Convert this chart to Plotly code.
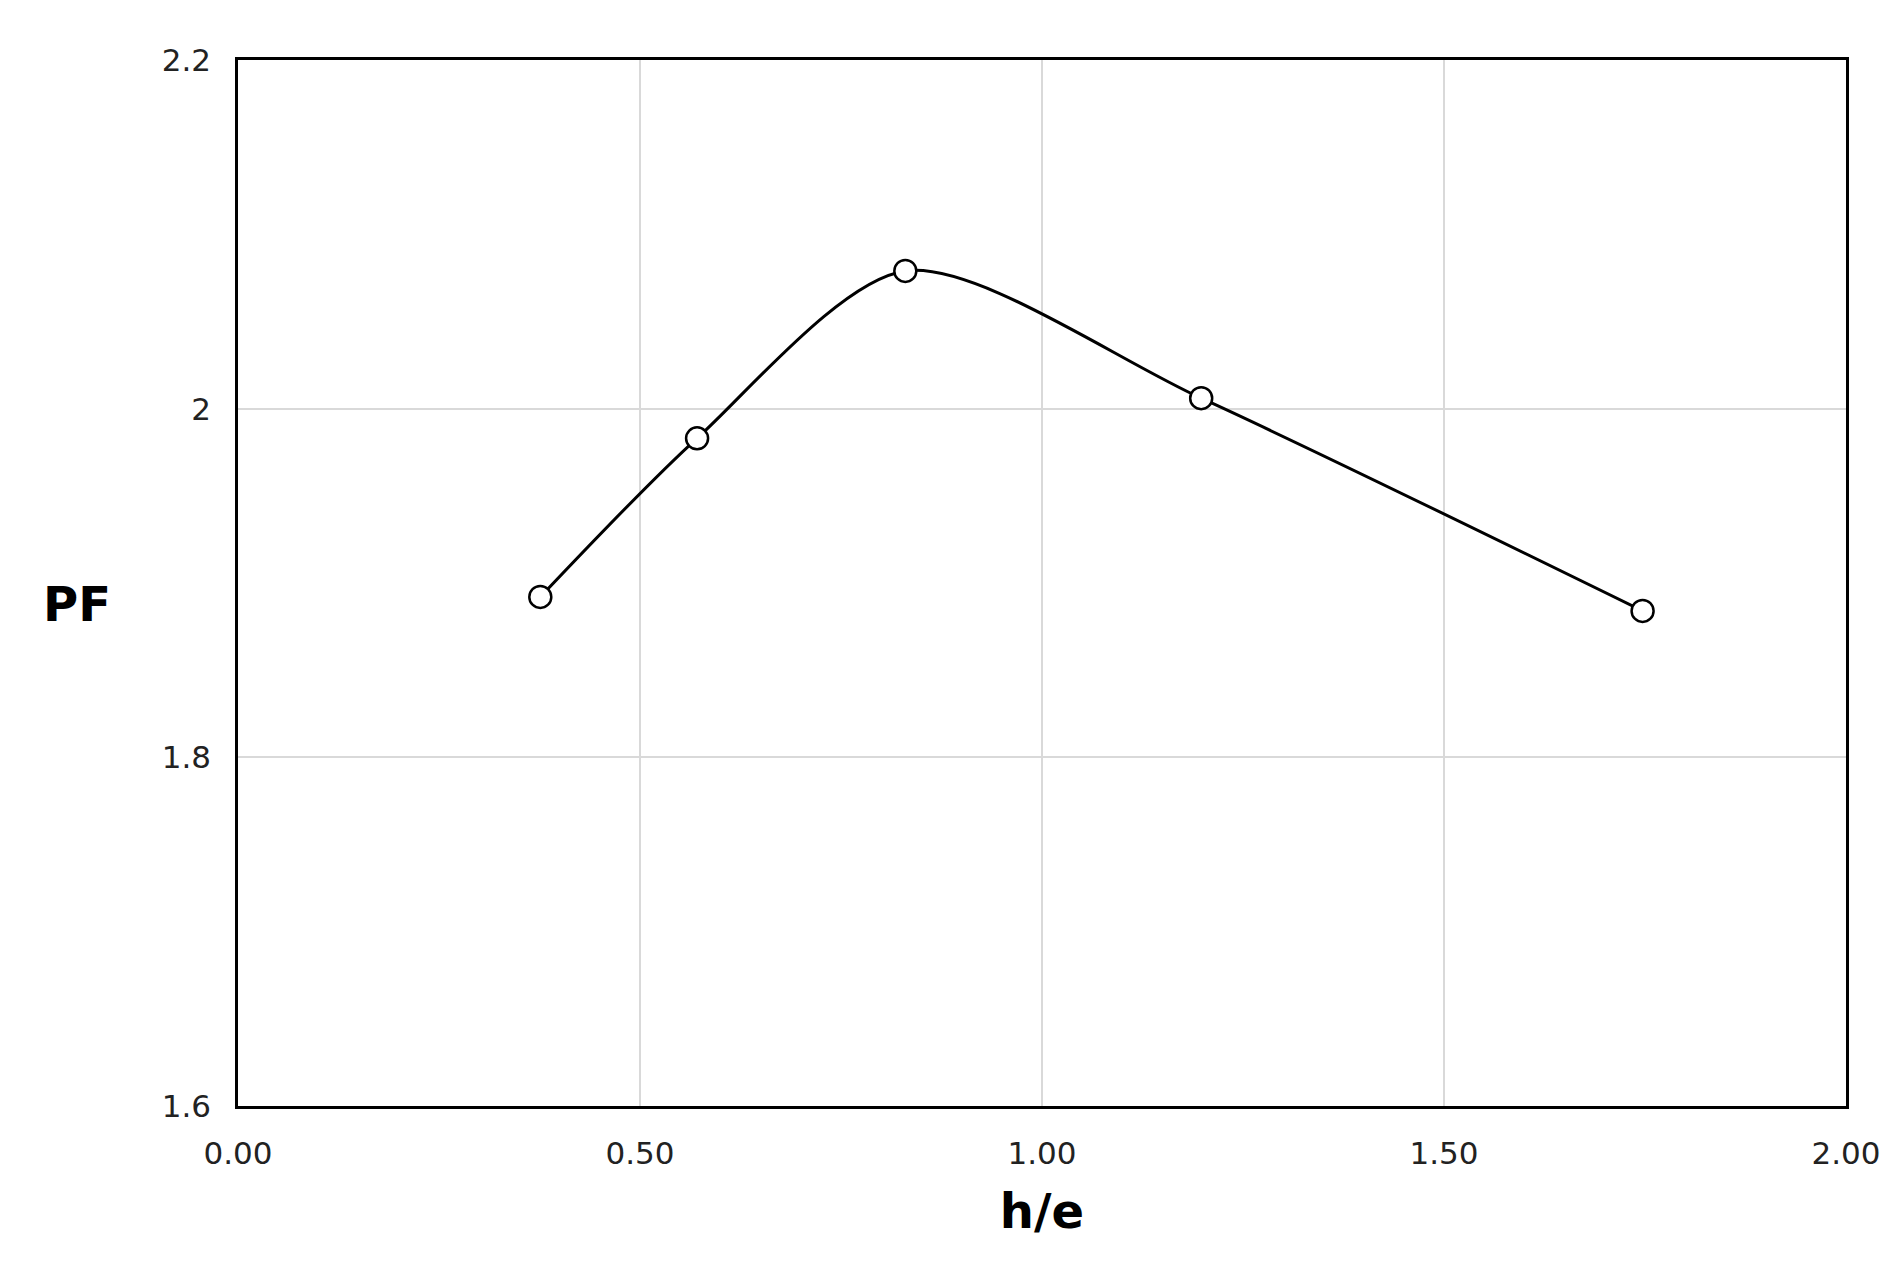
import plotly.graph_objects as go

# h/e vs PF
h_e = [0.376, 0.571, 0.830, 1.198, 1.747]
pf = [1.892, 1.983, 2.079, 2.006, 1.884]

fig = go.Figure()
fig.add_trace(go.Scatter(
    x=h_e, y=pf,
    mode='lines+markers',
    line=dict(color='black', width=3, shape='spline', smoothing=0.8),
    marker=dict(symbol='circle', size=22, color='white', line=dict(color='black', width=2.5)),
    showlegend=False,
))

axis_font = dict(family='DejaVu Sans', size=31, color='#222222')
fig.update_layout(
    width=1896, height=1283,
    paper_bgcolor='white', plot_bgcolor='white',
    margin=dict(l=230, r=58, t=52, b=185),
    xaxis=dict(range=[0, 2], tickvals=[0, 0.5, 1, 1.5, 2], tickformat='.2f',
               showgrid=True, gridcolor='#d9d9d9', gridwidth=2,
               showline=True, linecolor='black', linewidth=2.5, mirror=True,
               ticks='', tickfont=axis_font, zeroline=False, ticklabelstandoff=18,
               title=dict(text='<b>h/e</b>', font=dict(family='DejaVu Sans', size=48, color='black'), standoff=25)),
    yaxis=dict(range=[1.6, 2.2], tickvals=[1.6, 1.8, 2.0, 2.2], ticktext=['1.6', '1.8', '2', '2.2'],
               showgrid=True, gridcolor='#d9d9d9', gridwidth=2,
               showline=True, linecolor='black', linewidth=2.5, mirror=True,
               ticks='', tickfont=axis_font, zeroline=False, ticklabelstandoff=18),
)
fig.add_annotation(text='<b>PF</b>', xref='paper', yref='paper', x=-0.1, y=0.48,
                   xanchor='center', showarrow=False,
                   font=dict(family='DejaVu Sans', size=48, color='black'))

fig.write_html("out.html")
